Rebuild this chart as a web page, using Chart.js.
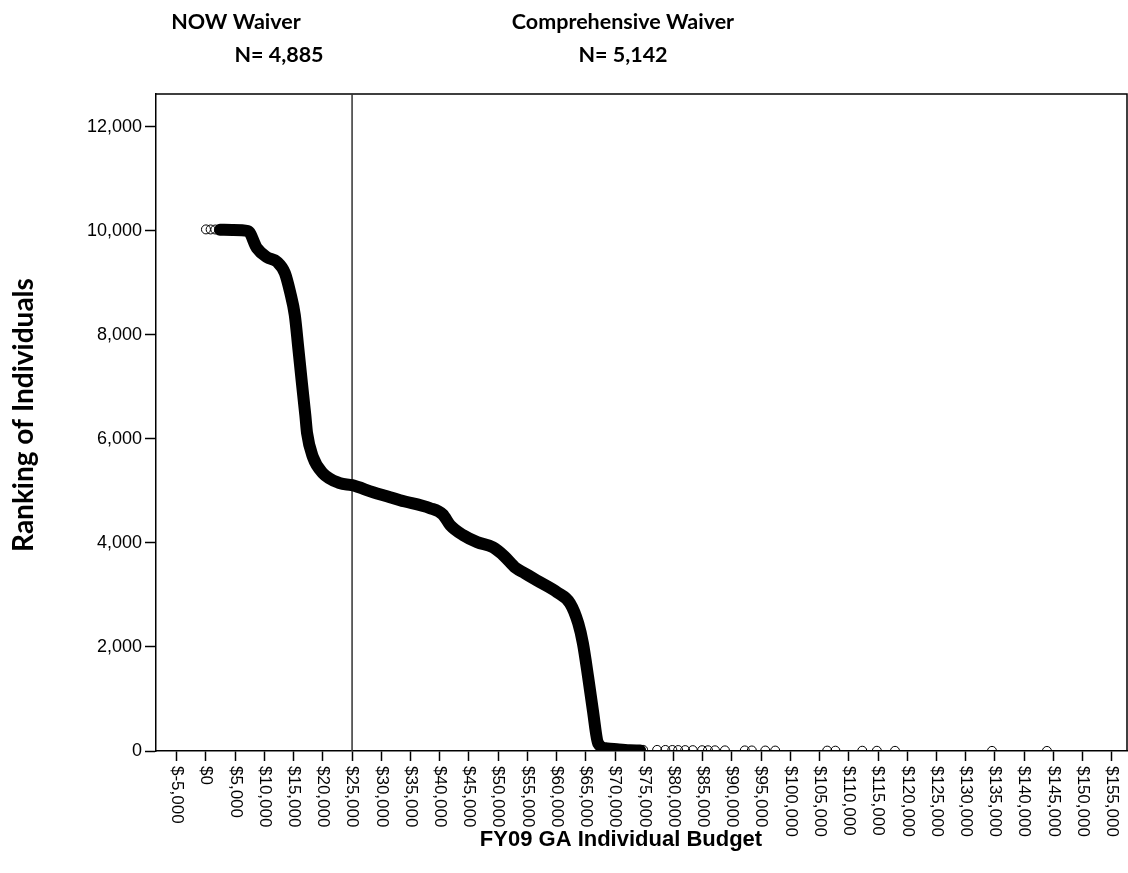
<!DOCTYPE html>
<html lang="en">
<head>
  <meta charset="UTF-8" />
  <title>FY09 GA Individual Budget</title>
  <script src="https://cdn.jsdelivr.net/npm/chart.js@4.4.0/dist/chart.umd.min.js"></script>
  <style>
    html, body { margin: 0; padding: 0; background: #fff; }
    canvas { display: block; }
  </style>
</head>
<body>
  <canvas id="budgetChart" width="1128" height="873"></canvas>

  <script>
    // main dense band of individuals (budget vs ranking)
    const curveBudget = [2400, 4500, 7200, 8700, 10400, 12200, 13500, 14400, 15200, 15800,
      16400, 17000, 17300, 18300, 20000, 22900, 25000, 28600, 31500, 33200,
      38300, 40500, 41800, 44000, 46400, 49100, 51000, 53000, 54500, 56600, 60100,
      62300, 63700, 64500, 65400, 66200, 67100, 68600, 70300, 72500, 74300];
    const curveRank = [10020, 10015, 9995, 9670, 9495, 9400, 9190, 8820, 8380, 7745,
      7090, 6455, 6110, 5650, 5340, 5150, 5110, 4975, 4880, 4820,
      4670, 4550, 4340, 4150, 4015, 3915, 3750, 3520, 3420, 3280, 3050,
      2840, 2455, 2070, 1415, 785, 150, 50, 33, 15, 10];

    // separate circles at the low-budget start
    const startBudget = [0, 800, 1600];
    const startRank = [10027, 10026, 10025];

    // separate circles in the high-budget tail
    const tailBudget = [74800, 77200, 78600, 79800, 80800, 82000, 83300, 84900, 85900, 87100,
      88800, 92200, 93400, 95700, 97400, 106300, 107700, 112300, 114800, 117900,
      134500, 143900];
    const tailRank = [22, 21, 20, 19, 18, 17, 16, 15, 14, 13,
      12, 11, 10, 9, 8, 7, 6, 5, 4, 3, 2, 1];

    const xTicks = [-5000, 0, 5000, 10000, 15000, 20000, 25000, 30000, 35000, 40000,
      45000, 50000, 55000, 60000, 65000, 70000, 75000, 80000, 85000, 90000,
      95000, 100000, 105000, 110000, 115000, 120000, 125000, 130000, 135000, 140000,
      145000, 150000, 155000];
    const yTicks = [0, 2000, 4000, 6000, 8000, 10000, 12000];

    const groupNames = ['NOW Waiver', 'Comprehensive Waiver'];
    const groupCounts = ['N= 4,885', 'N= 5,142'];
    const splitBudget = 25000;

    const money = v => '$' + v.toLocaleString('en-US');

    Chart.defaults.font.family = "'Liberation Sans', Arial, sans-serif";
    Chart.defaults.color = '#000';

    const decorations = {
      id: 'decorations',
      beforeDatasetsDraw(chart) {
        const { ctx, chartArea: a, scales: { x } } = chart;
        ctx.save();
        ctx.strokeStyle = '#000';
        ctx.lineWidth = 1.5;
        ctx.beginPath();
        ctx.moveTo(a.left, a.top);
        ctx.lineTo(a.right, a.top);
        ctx.lineTo(a.right, a.bottom);
        ctx.stroke();
        // split between the two waivers
        const sx = x.getPixelForValue(splitBudget);
        ctx.strokeStyle = '#333';
        ctx.beginPath();
        ctx.moveTo(sx, a.top);
        ctx.lineTo(sx, a.bottom);
        ctx.stroke();
        ctx.restore();
      },
      afterDraw(chart) {
        const { ctx, chartArea: a, scales: { x } } = chart;
        ctx.save();
        ctx.fillStyle = '#000';

        // x tick labels, turned to read downward
        ctx.font = "17px 'Liberation Sans', Arial, sans-serif";
        ctx.textAlign = 'left';
        ctx.textBaseline = 'middle';
        xTicks.forEach(v => {
          ctx.save();
          ctx.translate(x.getPixelForValue(v), a.bottom + 15);
          ctx.rotate(Math.PI / 2);
          ctx.fillText(money(v), 0, 0);
          ctx.restore();
        });

        // axis titles
        ctx.textAlign = 'center';
        ctx.font = "bold 22px 'Liberation Sans', Arial, sans-serif";
        ctx.fillText('FY09 GA Individual Budget', 621, 840);

        ctx.textBaseline = 'alphabetic';
        ctx.font = "bold 28px Lato, 'Open Sans', sans-serif";
        ctx.save();
        ctx.translate(33, 415);
        ctx.rotate(-Math.PI / 2);
        ctx.fillText('Ranking of Individuals', 0, 0);
        ctx.restore();

        // group headers
        ctx.textBaseline = 'middle';
        ctx.font = "bold 21.5px Lato, 'Open Sans', sans-serif";
        ctx.fillText(groupNames[0], 236, 22);
        ctx.fillText(groupCounts[0], 279, 55);
        ctx.fillText(groupNames[1], 623, 22);
        ctx.fillText(groupCounts[1], 623, 55);
        ctx.restore();
      }
    };

    new Chart(document.getElementById('budgetChart'), {
      type: 'scatter',
      data: {
        datasets: [
          {
            label: 'band',
            data: curveBudget.map((b, i) => ({ x: b, y: curveRank[i] })),
            showLine: true,
            borderColor: '#000',
            borderWidth: 12,
            borderCapStyle: 'round',
            borderJoinStyle: 'round',
            cubicInterpolationMode: 'monotone',
            pointRadius: 0,
            clip: 0
          },
          {
            label: 'start',
            data: startBudget.map((b, i) => ({ x: b, y: startRank[i] })),
            pointRadius: 4.5,
            borderWidth: 1,
            borderColor: '#000',
            backgroundColor: 'rgba(0,0,0,0)',
            clip: 0
          },
          {
            label: 'tail',
            data: tailBudget.map((b, i) => ({ x: b, y: tailRank[i] })),
            pointRadius: 4.5,
            borderWidth: 1,
            borderColor: '#000',
            backgroundColor: 'rgba(0,0,0,0)',
            clip: 0
          }
        ]
      },
      options: {
        responsive: false,
        animation: false,
        events: [],
        layout: { autoPadding: false, padding: { top: 94, right: 1, bottom: 0, left: 0 } },
        plugins: { legend: { display: false }, tooltip: { enabled: false } },
        scales: {
          x: {
            type: 'linear',
            min: -8550,
            max: 157600,
            afterBuildTicks: s => { s.ticks = xTicks.map(v => ({ value: v })); },
            afterFit: s => { s.height = 122; },
            ticks: { display: false },
            grid: { drawOnChartArea: false, tickLength: 10, tickColor: '#000', tickWidth: 1.5 },
            border: { color: '#000', width: 1.5 }
          },
          y: {
            min: 0,
            max: 12630,
            afterBuildTicks: s => { s.ticks = yTicks.map(v => ({ value: v })); },
            afterFit: s => { s.width = 156; },
            ticks: {
              padding: 3,
              font: { size: 18 },
              color: '#000',
              callback: v => v.toLocaleString('en-US')
            },
            grid: { drawOnChartArea: false, tickLength: 11, tickColor: '#000', tickWidth: 1.5 },
            border: { color: '#000', width: 1.5 }
          }
        }
      },
      plugins: [decorations]
    });
  </script>
</body>
</html>
